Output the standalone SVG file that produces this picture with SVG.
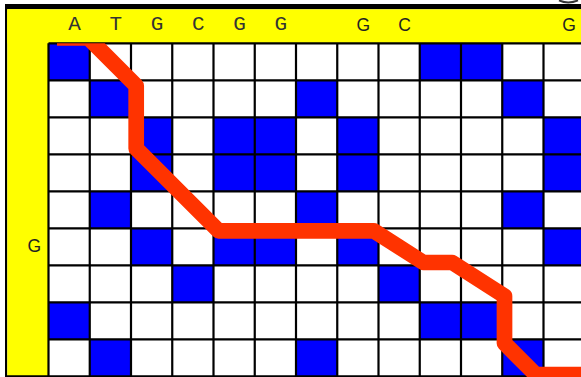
<svg xmlns="http://www.w3.org/2000/svg" xmlns:xlink="http://www.w3.org/1999/xlink" width="581" height="377" viewBox="0 0 581 377">
  <style>
    .blue { fill: #0000ff; }
    .grid { stroke: #000; stroke-width: 2.2; fill: none; }
    .mono { font-family: "Liberation Mono", "DejaVu Sans Mono", monospace; font-size: 21px; fill: #333; text-anchor: middle; }
    .sans { font-family: "Liberation Sans", Arial, sans-serif; font-size: 17.5px; fill: #222; text-anchor: middle; }
    .path { fill: none; stroke: #ff3300; stroke-width: 15.7; stroke-linejoin: round; stroke-linecap: butt; }
  </style>
  <defs>
    <g id="rowA">
      <rect class="blue" x="48.5" y="0" width="41.25" height="37"/>
      <rect class="blue" x="419.75" y="0" width="41.25" height="37"/>
      <rect class="blue" x="461" y="0" width="41.25" height="37"/>
    </g>
    <g id="rowT">
      <rect class="blue" x="89.75" y="0" width="41.25" height="37"/>
      <rect class="blue" x="296" y="0" width="41.25" height="37"/>
      <rect class="blue" x="502.25" y="0" width="41.25" height="37"/>
    </g>
    <g id="rowG">
      <rect class="blue" x="131" y="0" width="41.25" height="37"/>
      <rect class="blue" x="213.5" y="0" width="41.25" height="37"/>
      <rect class="blue" x="254.75" y="0" width="41.25" height="37"/>
      <rect class="blue" x="337.25" y="0" width="41.25" height="37"/>
      <rect class="blue" x="543.5" y="0" width="41.25" height="37"/>
    </g>
    <g id="rowC">
      <rect class="blue" x="172.25" y="0" width="41.25" height="37"/>
      <rect class="blue" x="378.5" y="0" width="41.25" height="37"/>
    </g>
    <clipPath id="gridClip">
      <rect x="48.5" y="43.3" width="540" height="340"/>
    </clipPath>
  </defs>

  <rect x="0" y="0" width="581" height="377" fill="#fff"/>

  <g id="frame">
    <rect x="5" y="4" width="576" height="5.3" fill="#000"/>
    <rect x="5" y="4" width="2.3" height="373" fill="#000"/>
    <rect x="7.3" y="9.3" width="574" height="34" fill="#ffff00"/>
    <rect x="7.3" y="9.3" width="41.2" height="368" fill="#ffff00"/>
    <path d="M 559 0.3 Q 568 4.6 578 0.3" fill="none" stroke="#333" stroke-width="2"/>
  </g>

  <g id="matrix">
    <use xlink:href="#rowA" transform="translate(0,43.3)"/>
    <use xlink:href="#rowT" transform="translate(0,80.3)"/>
    <use xlink:href="#rowG" transform="translate(0,117.3)"/>
    <use xlink:href="#rowG" transform="translate(0,154.3)"/>
    <use xlink:href="#rowT" transform="translate(0,191.3)"/>
    <use xlink:href="#rowG" transform="translate(0,228.3)"/>
    <use xlink:href="#rowC" transform="translate(0,265.3)"/>
    <use xlink:href="#rowA" transform="translate(0,302.3)"/>
    <use xlink:href="#rowT" transform="translate(0,339.3)"/>
  </g>

  <g id="gridlines" class="grid">
    <path d="M48.5 43.3V377 M89.75 43.3V377 M131 43.3V377 M172.25 43.3V377 M213.5 43.3V377 M254.75 43.3V377 M296 43.3V377 M337.25 43.3V377 M378.5 43.3V377 M419.75 43.3V377 M461 43.3V377 M502.25 43.3V377 M543.5 43.3V377"/>
    <path d="M48.5 43.3H581 M48.5 80.3H581 M48.5 117.3H581 M48.5 154.3H581 M48.5 191.3H581 M48.5 228.3H581 M48.5 265.3H581 M48.5 302.3H581 M48.5 339.3H581 M5 376.3H581"/>
  </g>

  <g id="connectors" clip-path="url(#gridClip)">
    <path class="path" d="M 57 37.9 L 88.4 37.9 L 136.2 85.7 L 136.2 148.5 L 218.5 230.8 L 373.9 230.8 L 423.4 262.5 L 452.2 262.5 L 504.5 296 L 504.5 343.3 L 535.7 374.5 L 595 374.5"/>
  </g>

  <g id="labels">
    <text class="mono" x="74.6" y="30">A</text>
    <text class="mono" x="115.9" y="30">T</text>
    <text class="mono" x="157.1" y="30">G</text>
    <text class="mono" x="198.4" y="30">C</text>
    <text class="mono" x="239.6" y="30">G</text>
    <text class="mono" x="280.9" y="30">G</text>
    <text class="sans" x="363.4" y="30.5">G</text>
    <text class="sans" x="404.6" y="30.5">C</text>
    <text class="sans" x="569" y="30.5">G</text>
    <text class="sans" x="34.2" y="252.3">G</text>
  </g>
</svg>
